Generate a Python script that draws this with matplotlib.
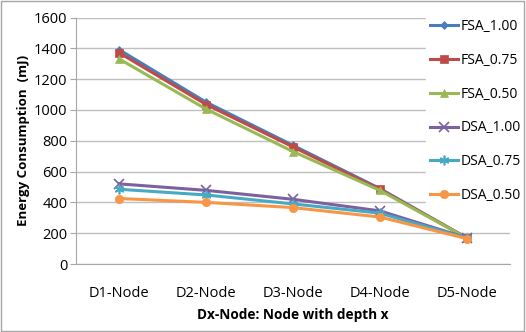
import matplotlib
matplotlib.use("Agg")
import matplotlib.pyplot as plt
from matplotlib.patches import Rectangle

categories = ["D1-Node", "D2-Node", "D3-Node", "D4-Node", "D5-Node"]
fsa_100 = [1390, 1050, 770, 490, 170]
fsa_075 = [1370, 1035, 760, 485, 170]
fsa_050 = [1330, 1005, 730, 478, 170]
dsa_100 = [520, 478, 420, 345, 170]
dsa_075 = [485, 448, 390, 330, 168]
dsa_050 = [425, 400, 366, 305, 165]
series_names = ["FSA_1.00", "FSA_0.75", "FSA_0.50", "DSA_1.00", "DSA_0.75", "DSA_0.50"]
yticks = [0, 200, 400, 600, 800, 1000, 1200, 1400, 1600]

plt.rcParams['font.family'] = ['Open Sans', 'DejaVu Sans']

fig = plt.figure(figsize=(5.26, 3.32), dpi=100)
fig.patches.append(Rectangle((0.002, 0.003), 0.995, 0.993, transform=fig.transFigure,
                             fill=False, edgecolor="#A6A6A6", linewidth=1))
ax = fig.add_axes([76/526, 1-264/332, (510-76)/526, (264-17.5)/332])

data = [fsa_100, fsa_075, fsa_050, dsa_100, dsa_075, dsa_050]
colors = ["#4A7EBB", "#BE4B48", "#98B954", "#7D60A0", "#46AAC5", "#F79646"]
markers = ["D", "s", "^", "x", (6, 2, 0), "o"]
msizes = [4, 6, 6, 7, 7, 6]
x = list(range(len(categories)))
for vals, c, m, ms, name in zip(data, colors, markers, msizes, series_names):
    ax.plot(x, vals, color=c, marker=m, markersize=ms, linewidth=2.2, label=name,
            markeredgecolor=c, markeredgewidth=1.2 if m in ("x", (6, 2, 0)) else 0.5)

ax.set_xlim(-0.5, 4.5)
ax.set_ylim(0, 1600)
ax.set_yticks(yticks)
ax.set_xticks(x)
ax.set_xticklabels(categories)
ax.yaxis.grid(True, color="#BFBFBF", linewidth=1)
ax.set_axisbelow(True)
for s in ["top", "right"]:
    ax.spines[s].set_visible(False)
ax.spines["left"].set_color("#A6A6A6")
ax.spines["bottom"].set_color("#A6A6A6")
ax.tick_params(axis="y", length=4, color="#A6A6A6", labelsize=10.5, pad=2)
ax.tick_params(axis="x", length=0, labelsize=10.5, pad=16)
ax.set_ylabel("Energy Consumption  (mJ)", fontsize=9.5, fontweight="bold", labelpad=3)
ax.set_xlabel("Dx-Node: Node with depth x", fontsize=9.8, fontweight="bold", labelpad=5)

leg = ax.legend(loc="upper left", bbox_to_anchor=(426/526, 1-15/332), bbox_transform=fig.transFigure,
                frameon=True, fontsize=10, labelspacing=1.35, handlelength=2.0,
                handletextpad=0.2, borderpad=0.3, borderaxespad=0)
leg.get_frame().set_edgecolor("white")
leg.get_frame().set_facecolor("white")
leg.get_frame().set_alpha(1)

fig.savefig("out.png", dpi=100)
